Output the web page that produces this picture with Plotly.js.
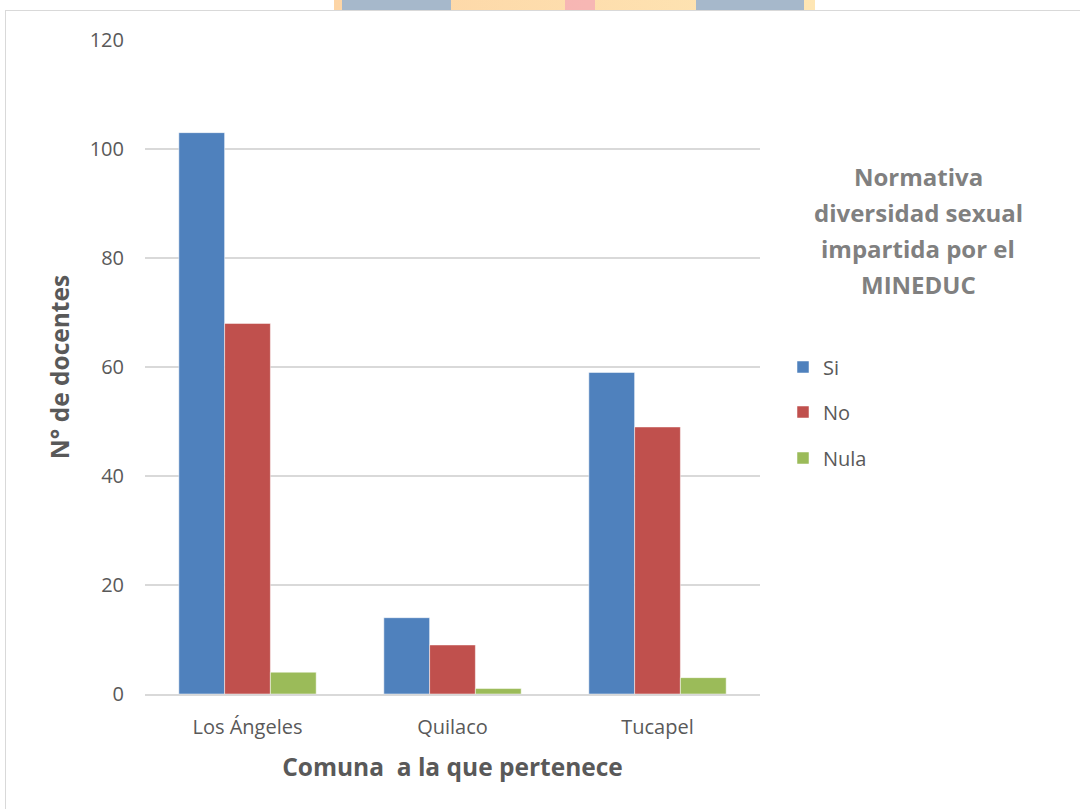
<!DOCTYPE html>
<html><head><meta charset="utf-8">
<script src="https://cdn.plot.ly/plotly-3.0.1.min.js"></script>
<style>
html,body{margin:0;padding:0;background:#fff;}
#wrap{position:relative;width:1080px;height:809px;overflow:hidden;}
#chart{position:absolute;left:0;top:0;width:1080px;height:809px;}
#frame{position:absolute;left:5px;top:10px;width:1090px;height:820px;border:1.5px solid #d9d9d9;pointer-events:none;}
.wm{position:absolute;top:0;height:10px;}
</style></head>
<body><div id="wrap">
<div class="wm" style="left:334px;width:481px;background:linear-gradient(90deg,#fdd5a6,#fee6b4);"></div>
<div class="wm" style="left:342px;width:109px;background:#a6b8cb;"></div>
<div class="wm" style="left:696px;width:108px;background:#a6b8cb;"></div>
<div class="wm" style="left:565px;width:30px;background:#f5adb5;opacity:0.8;"></div>
<div id="chart"></div>
<div id="frame"></div>
</div>
<script>
var categories = ["Los Ángeles", "Quilaco", "Tucapel"];
var seriesNames = ["Si", "No", "Nula"];
var siValues = [103, 14, 59];
var noValues = [68, 9, 49];
var nulaValues = [4, 1, 3];
var yTicks = [0, 20, 40, 60, 80, 100, 120];
var legendTitleLines = ["Normativa", "diversidad sexual", "impartida por el", "MINEDUC"];
var xTitle = "Comuna  a la que pertenece";
var yTitle = "N° de docentes";

var colors = ["#4f81bd", "#c0504d", "#9bbb59"];
var vals = [siValues, noValues, nulaValues];
var legends = ["legend", "legend2", "legend3"];
var FONT = "Open Sans, Noto Sans, sans-serif";
var PL = 145, PR = 760, PT = 40, PB = 694;
function px(X){ return (X - PL) / (PR - PL); }
function py(Y){ return (PB - Y) / (PB - PT); }
var traces = vals.map(function(v, i){
  return {type:"bar", x:categories, y:v, name:seriesNames[i],
    marker:{color:colors[i], line:{color:"#ffffff", width:0.5}},
    legend:legends[i], hoverinfo:"y"};
});
function leg(y){
  return {x:px(783), y:py(y), xref:"paper", yref:"paper", xanchor:"left", yanchor:"middle",
    font:{family:FONT, size:20, color:"#595959"}, bgcolor:"rgba(0,0,0,0)", itemwidth:30};
}
var annotations = legendTitleLines.map(function(t, i){
  return {text:"<b>"+t+"</b>", x:px(918), y:py(176 + i*36), xref:"paper", yref:"paper",
    xanchor:"center", yanchor:"middle", showarrow:false, align:"center",
    font:{family:FONT, size:24, color:"#808080"}};
});
var layout = {
  width:1080, height:809,
  margin:{l:PL, r:1080-PR, t:PT, b:809-PB},
  paper_bgcolor:"rgba(0,0,0,0)", plot_bgcolor:"#ffffff",
  barmode:"group", bargap:0.33, bargroupgap:0,
  font:{family:FONT, color:"#595959"},
  xaxis:{tickfont:{size:20, color:"#595959", family:FONT}, showline:true, linecolor:"#d9d9d9", linewidth:1.5,
    ticks:"", showgrid:false, ticklabelstandoff:14,
    title:{text:xTitle, font:{size:24.5, color:"#595959", family:FONT, weight:"bold"}, standoff:20}},
  yaxis:{range:[0,120], tickvals:yTicks, tickfont:{size:20, color:"#595959", family:FONT},
    showgrid:true, gridcolor:"#d9d9d9", gridwidth:1.5, zeroline:false, showline:false, ticks:"",
    ticklabelstandoff:20,
    title:{text:yTitle, font:{size:24.5, color:"#595959", family:FONT, weight:"bold"}, standoff:13}},
  showlegend:true,
  legend:leg(367), legend2:leg(412), legend3:leg(458),
  annotations:annotations
};
Plotly.newPlot("chart", traces, layout, {displayModeBar:false, staticPlot:true});
</script>
</body></html>
